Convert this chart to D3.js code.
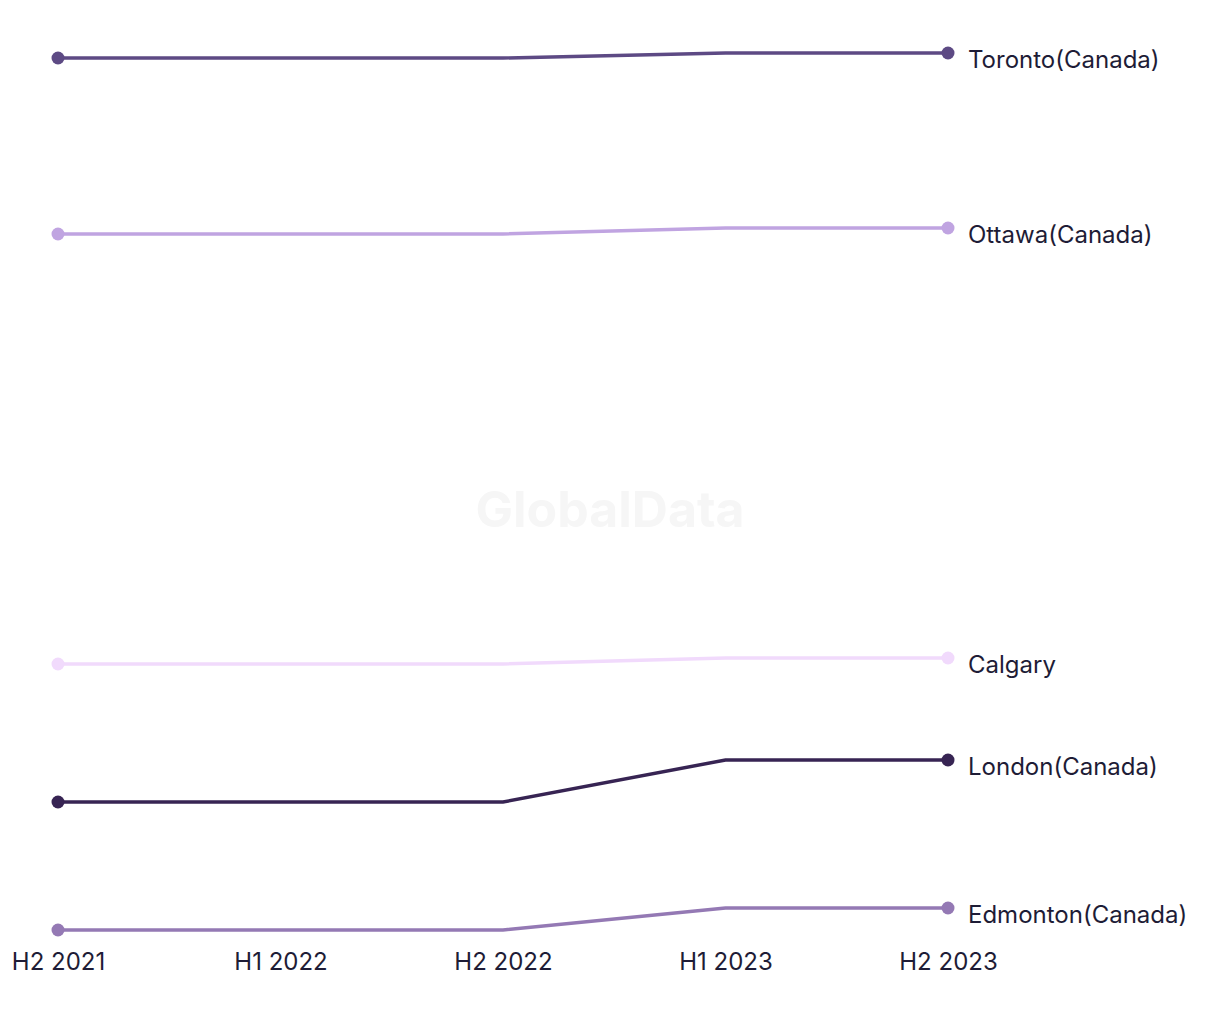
<!DOCTYPE html>
<meta charset="utf-8">
<style>
body { margin: 0; background: #fff; }
.tick text { font-family: Inter, "Noto Sans", sans-serif; fill: #1e1c36; }
</style>
<body>
<script src="https://cdn.jsdelivr.net/npm/d3@7"></script>
<script>
// the data
var periods = ["H2 2021", "H1 2022", "H2 2022", "H1 2023", "H2 2023"];
var cities = ["Toronto(Canada)", "Ottawa(Canada)", "Calgary", "London(Canada)", "Edmonton(Canada)"];
var toronto = [234.4, 234.4, 234.4, 235.4, 235.4];
var ottawa = [199.2, 199.2, 199.2, 200.4, 200.4];
var calgary = [113.2, 113.2, 113.2, 114.4, 114.4];
var london = [85.6, 85.6, 85.6, 94, 94];
var edmonton = [60, 60, 60, 64.4, 64.4];
var colors = ["#5d4a84", "#c0a4e1", "#f1dafc", "#372453", "#9479b4"];

var series = [toronto, ottawa, calgary, london, edmonton].map(function(v, i) {
  return { name: cities[i], color: colors[i], values: v };
});

var width = 1220, height = 1020;

var svg = d3.select("body").append("svg")
    .attr("width", width)
    .attr("height", height);

// watermark
svg.append("text")
    .attr("x", 610)
    .attr("y", 513)
    .attr("text-anchor", "middle")
    .attr("dominant-baseline", "middle")
    .style("font-family", "Inter, sans-serif")
    .style("font-weight", "700")
    .style("font-size", "50px")
    .style("fill", "#f6f6f6")
    .text("GlobalData");

// scales
var x = d3.scalePoint().domain(periods).range([58, 948]);
var all = d3.merge(series.map(function(s) { return s.values; }));
var y = d3.scaleLinear().domain(d3.extent(all)).range([930, 53]);

var line = d3.line()
    .x(function(d, i) { return x(periods[i]); })
    .y(function(d) { return y(d); });

var g = svg.selectAll(".series")
    .data(series)
  .enter().append("g")
    .attr("class", "series");

g.append("path")
    .attr("d", function(s) { return line(s.values); })
    .attr("fill", "none")
    .attr("stroke", function(s) { return s.color; })
    .attr("stroke-width", 3.5);

// dots on first and last point
g.selectAll("circle")
    .data(function(s) {
      var n = s.values.length - 1;
      return [{ i: 0, v: s.values[0], c: s.color }, { i: n, v: s.values[n], c: s.color }];
    })
  .enter().append("circle")
    .attr("cx", function(d) { return x(periods[d.i]); })
    .attr("cy", function(d) { return y(d.v); })
    .attr("r", 6.5)
    .attr("fill", function(d) { return d.c; });

// end labels
g.append("text")
    .attr("x", x(periods[periods.length - 1]) + 20)
    .attr("y", function(s) { return y(s.values[s.values.length - 1]) + 8; })
    .attr("dominant-baseline", "middle")
    .style("font-family", "Inter, 'Noto Sans', sans-serif")
    .style("font-size", "24px")
    .style("fill", "#1e1c36")
    .text(function(s) { return s.name; });

// x axis
var xAxis = svg.append("g")
    .attr("transform", "translate(0,945)")
    .call(d3.axisBottom(x).tickSize(0).tickPadding(8));
xAxis.select(".domain").remove();
xAxis.selectAll("text").style("font-size", "24px");
</script>
</body>
